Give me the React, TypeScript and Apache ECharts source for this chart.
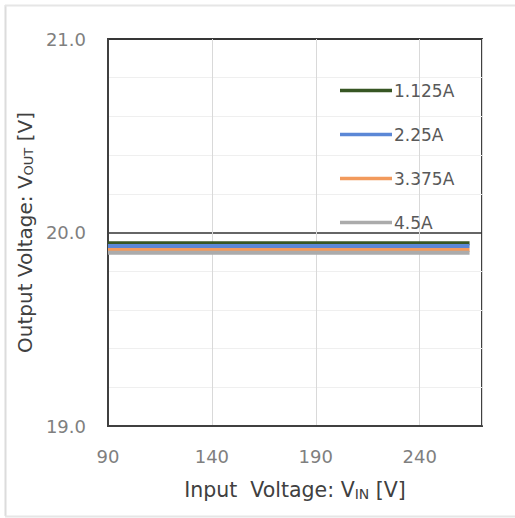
import React, { useEffect, useRef } from "react";
import * as echarts from "echarts";

const inputVoltage = [90, 100, 115, 140, 190, 230, 240, 264];
const seriesNames = ["1.125A", "2.25A", "3.375A", "4.5A"];
const out1125 = [19.945, 19.945, 19.945, 19.945, 19.945, 19.945, 19.945, 19.945];
const out225 = [19.93, 19.93, 19.93, 19.93, 19.93, 19.93, 19.93, 19.93];
const out3375 = [19.91, 19.91, 19.91, 19.91, 19.91, 19.91, 19.91, 19.91];
const out45 = [19.895, 19.895, 19.895, 19.895, 19.895, 19.895, 19.895, 19.895];
const seriesColors = ["#375623", "#5B87D6", "#F29A5C", "#ABABAB"];

const FONT = "'DejaVu Sans', 'Noto Sans', sans-serif";

export default function App() {
  const ref = useRef<HTMLDivElement>(null);
  useEffect(() => {
    if (!ref.current) return;
    const chart = echarts.init(ref.current, undefined, { renderer: "svg" });
    const values = [out1125, out225, out3375, out45];
    chart.setOption({
      animation: false,
      backgroundColor: "#ffffff",
      textStyle: { fontFamily: FONT },
      grid: {
        left: 108,
        right: 33,
        top: 39,
        bottom: 92,
        show: true,
        borderColor: "#404040",
        borderWidth: 2,
        backgroundColor: "transparent",
      },
      graphic: [
        { type: "line", shape: { x1: 5.5, y1: 5, x2: 5.5, y2: 516 }, style: { stroke: "#dcdcdc", lineWidth: 2 } },
        { type: "line", shape: { x1: 5, y1: 5.5, x2: 515, y2: 5.5 }, style: { stroke: "#e6e6e6", lineWidth: 2 } },
        { type: "line", shape: { x1: 5, y1: 516.5, x2: 515, y2: 516.5 }, style: { stroke: "#e6e6e6", lineWidth: 2 } },
      ],
      legend: {
        orient: "vertical",
        left: 335,
        top: 77,
        icon: "rect",
        itemWidth: 52,
        itemHeight: 3.5,
        itemGap: 27,
        textStyle: { color: "#595959", fontSize: 17, fontFamily: FONT, padding: [0, 0, 0, -3] },
        data: seriesNames,
      },
      xAxis: {
        type: "value",
        min: 90,
        max: 270,
        interval: 50,
        axisLine: { show: true, lineStyle: { color: "#404040", width: 2 } },
        axisTick: { show: false },
        axisLabel: {
          color: "#7f7f7f",
          fontSize: 18,
          margin: 21,
          showMaxLabel: false,
          fontFamily: FONT,
        },
        splitLine: { show: true, lineStyle: { color: "#d9d9d9", width: 1 } },
        name: "Input  Voltage: V{sub|IN} [V]",
        nameLocation: "middle",
        nameGap: 53,
        nameTextStyle: {
          color: "#404040",
          fontSize: 20.5,
          fontFamily: FONT,
          rich: {
            sub: { fontSize: 14, color: "#404040", padding: [8, 0, 0, 0], fontFamily: FONT },
          },
        },
      },
      yAxis: {
        type: "value",
        min: 19,
        max: 21,
        interval: 1,
        axisLine: { show: true, lineStyle: { color: "#404040", width: 2 } },
        axisTick: { show: false },
        axisLabel: {
          color: "#7f7f7f",
          fontSize: 18,
          margin: 22,
          fontFamily: FONT,
          formatter: (v: number) => v.toFixed(1),
        },
        splitLine: { show: true, lineStyle: { color: "#333333", width: 1.5 } },
        minorTick: { show: false, splitNumber: 5 },
        minorSplitLine: { show: true, lineStyle: { color: "#efefef", width: 1 } },
        name: "Output Voltage: V{sub|OUT} [V]",
        nameLocation: "middle",
        nameGap: 70,
        nameTextStyle: {
          color: "#404040",
          fontSize: 20,
          fontFamily: FONT,
          rich: {
            sub: { fontSize: 13, color: "#404040", padding: [8, 0, 0, 0], fontFamily: FONT },
          },
        },
      },
      series: seriesNames.map((name, i) => ({
        name,
        type: "line",
        data: inputVoltage.map((x, j) => [x, values[i][j]]),
        showSymbol: false,
        symbol: "none",
        lineStyle: { color: seriesColors[i], width: 4 },
        itemStyle: { color: seriesColors[i] },
        z: 3,
      })),
    });
    return () => chart.dispose();
  }, []);
  return (
    <div
      ref={ref}
      style={{ position: "fixed", left: 0, top: 0, width: 515, height: 518 }}
    />
  );
}
